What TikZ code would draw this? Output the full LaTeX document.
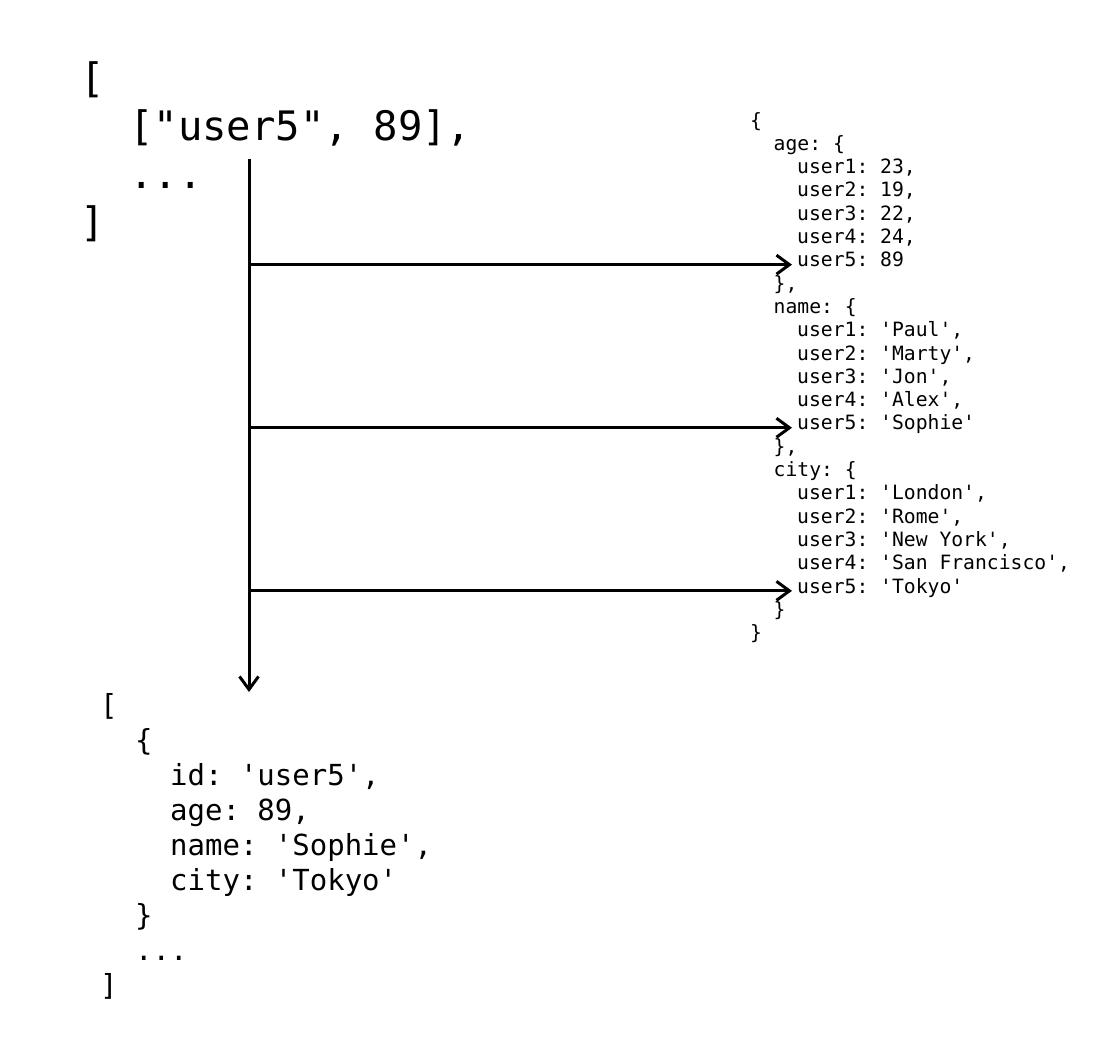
\documentclass[tikz,border=0pt]{standalone}
\usepackage{fontspec}
\setmonofont{DejaVu Sans Mono}
\usetikzlibrary{arrows.meta}

\begin{document}
\begin{tikzpicture}[x=1pt, y=-1pt,
	code/.style={inner sep=0pt, anchor=base west},
	bigcode/.style={code, font=\ttfamily\fontsize{40.6}{48}\selectfont},
	smallcode/.style={code, font=\ttfamily\fontsize{19.7}{23.3}\selectfont},
	midcode/.style={code, font=\ttfamily\fontsize{29}{35}\selectfont},
	wire/.style={line width=3pt, -{Straight Barb[length=13pt, width=19pt]}}]
	\useasboundingbox (0, 0) rectangle (1117, 1050);
	% Input array:
	\node[bigcode] (in0) at (80, 92) {[};
	\node[bigcode] (in1) at (129, 140) {["user5", 89],};
	\node[bigcode] (in2) at (129, 188) {...};
	\node[bigcode] (in3) at (80, 236) {]};
	% Column store:
	\node[smallcode] (col0) at (750, 127) {\{};
	\node[smallcode] (age) at (773.5, 150.3) {age: \{};
	\node[smallcode] (age1) at (797, 173.6) {user1: 23,};
	\node[smallcode] (age2) at (797, 196.9) {user2: 19,};
	\node[smallcode] (age3) at (797, 220.2) {user3: 22,};
	\node[smallcode] (age4) at (797, 243.5) {user4: 24,};
	\node[smallcode] (age5) at (797, 266.8) {user5: 89};
	\node[smallcode] (ageend) at (773.5, 290.1) {\},};
	\node[smallcode] (name) at (773.5, 313.4) {name: \{};
	\node[smallcode] (name1) at (797, 336.7) {user1: 'Paul',};
	\node[smallcode] (name2) at (797, 360) {user2: 'Marty',};
	\node[smallcode] (name3) at (797, 383.3) {user3: 'Jon',};
	\node[smallcode] (name4) at (797, 406.6) {user4: 'Alex',};
	\node[smallcode] (name5) at (797, 429.9) {user5: 'Sophie'};
	\node[smallcode] (nameend) at (773.5, 453.2) {\},};
	\node[smallcode] (city) at (773.5, 476.5) {city: \{};
	\node[smallcode] (city1) at (797, 499.8) {user1: 'London',};
	\node[smallcode] (city2) at (797, 523.1) {user2: 'Rome',};
	\node[smallcode] (city3) at (797, 546.4) {user3: 'New York',};
	\node[smallcode] (city4) at (797, 569.7) {user4: 'San Francisco',};
	\node[smallcode] (city5) at (797, 593) {user5: 'Tokyo'};
	\node[smallcode] (cityend) at (773.5, 616.3) {\}};
	\node[smallcode] (col1) at (750, 639.6) {\}};
	% Output array:
	\node[midcode] (out0) at (100, 715) {[};
	\node[midcode] (out1) at (135, 750) {\{};
	\node[midcode] (out2) at (170, 785) {id: 'user5',};
	\node[midcode] (out3) at (170, 820) {age: 89,};
	\node[midcode] (out4) at (170, 855) {name: 'Sophie',};
	\node[midcode] (out5) at (170, 890) {city: 'Tokyo'};
	\node[midcode] (out6) at (135, 925) {\}};
	\node[midcode] (out7) at (135, 960) {...};
	\node[midcode] (out8) at (100, 995) {]};
	% Arrows:
	\coordinate (spine) at (249, 159);
	\coordinate (drop) at (249, 692);
	\draw[wire] (spine) -- (drop);
	\draw[wire, shorten >=5pt] (spine |- age5.mid west) -- (age5.mid west);
	\draw[wire, shorten >=5pt] (spine |- name5.mid west) -- (name5.mid west);
	\draw[wire, shorten >=5pt] (spine |- city5.mid west) -- (city5.mid west);
\end{tikzpicture}
\end{document}
